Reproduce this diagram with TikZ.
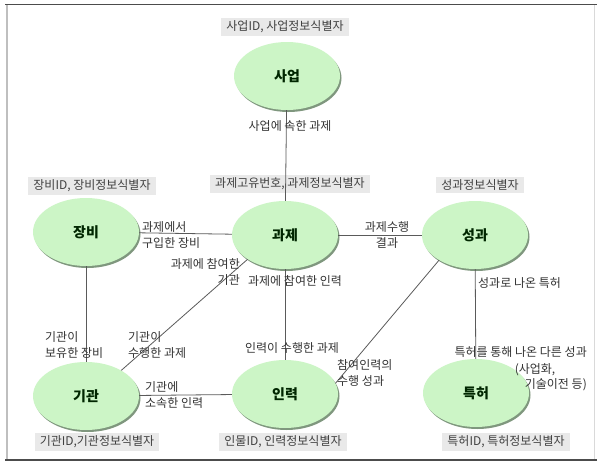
\documentclass[tikz,border=0pt]{standalone}
\usepackage{fontspec}
\setmainfont{Noto Sans CJK KR}
\usetikzlibrary{shapes.geometric,shadows}
\definecolor{ent}{HTML}{CCF5C6}
\definecolor{entshadow}{HTML}{4A6B48}
\definecolor{idbox}{HTML}{E9E9E9}
\definecolor{conn}{HTML}{5A5A5A}
\tikzset{
 entity/.style={ellipse, fill=ent, minimum width=106pt, minimum height=68pt, inner sep=0pt,
   font=\fontsize{14}{16}\selectfont\bfseries, text=black!85!green,
   drop shadow={shadow xshift=1.5pt, shadow yshift=-2pt, fill=entshadow, opacity=0.7}},
 idlabel/.style={fill=idbox, font=\fontsize{12}{14}\selectfont, inner xsep=5pt, inner ysep=2.5pt, text=black!75},
 rel/.style={font=\fontsize{12}{16}\selectfont, inner sep=1pt, text=black!80},
 connector/.style={draw=conn, line width=0.8pt}
}
\begin{document}
\begin{tikzpicture}[x=1pt,y=-1pt]
\useasboundingbox (0,0) rectangle (602,463);
\fill[white] (0,0) rectangle (602,463);
% frame
\draw[black!25, line width=1.5pt] (7,5) -- (7,460);
\draw[black!15, line width=1pt] (594,5) -- (594,460);
\draw[black!70, line width=1.8pt] (5,4.5) -- (597,4.5);
\draw[black!70, line width=1.8pt] (5,460) -- (597,460);

% id boxes
\node[idlabel] (idsa) at (285,27) {사업ID, 사업정보식별자};
\node[idlabel] (idjang) at (92,186) {장비ID, 장비정보식별자};
\node[idlabel] (idgwa) at (290,184) {과제고유번호, 과제정보식별자};
\node[idlabel] (idsung) at (480,185) {성과정보식별자};
\node[idlabel] (idgi) at (97,442) {기관ID,기관정보식별자};
\node[idlabel] (idin) at (283,442) {인물ID, 인력정보식별자};
\node[idlabel] (idteuk) at (506,442) {특허ID, 특허정보식별자};

% entities
\node[entity] (sa) at (287,76) {사업};
\node[entity] (gwa) at (285,235) {과제};
\node[entity] (jang) at (86,232) {장비};
\node[entity] (sung) at (475,235) {성과};
\node[entity] (gi) at (86,396) {기관};
\node[entity] (in) at (285,394) {인력};
\node[entity] (teuk) at (476,393) {특허};

% connectors
\draw[connector] (sa) -- (gwa);
\draw[connector] (jang) -- (gwa);
\draw[connector] (gwa) -- (sung);
\draw[connector] (gwa) -- (in);
\draw[connector] (jang) -- (gi);
\draw[connector] (gi) -- (in);
\draw[connector] (sung) -- (teuk);
\draw[connector] (gwa.213) -- (gi.36);
\draw[connector] (sung.215) -- (in.12);

% relation labels
\node[rel] (l1) at (290,126) {사업에 속한 과제};
\node[rel, anchor=west, align=left] (l2) at (141,235) {과제에서\\구입한 장비};
\node[rel, anchor=east, align=right] (l3) at (241,272) {과제에 참여한\\기관};
\node[rel] (l4) at (295,281) {과제에 참여한 인력};
\node[rel, align=center] (l5) at (387,235) {과제수행\\결과};
\node[rel, anchor=west] (l6) at (477,283) {성과로 나온 특허};
\node[rel, anchor=west, align=left] (l7) at (44,345) {기관이\\보유한 장비};
\node[rel, anchor=west, align=left] (l8) at (127,345) {기관이\\수행한 과제};
\node[rel] (l9) at (292,348) {인력이 수행한 과제};
\node[rel, anchor=west, align=left] (l10) at (336,373) {참여인력의\\수행 성과};
\node[rel, anchor=west, align=left] (l11) at (144,395) {기관에\\소속한 인력};
\node[rel, anchor=east] (l12a) at (588,352) {특허를 통해 나온 다른 성과};
\node[rel] (l12b) at (535,370) {(사업화,};
\node[rel, anchor=east] (l12c) at (588,385) {기술이전 등)};
\end{tikzpicture}
\end{document}
